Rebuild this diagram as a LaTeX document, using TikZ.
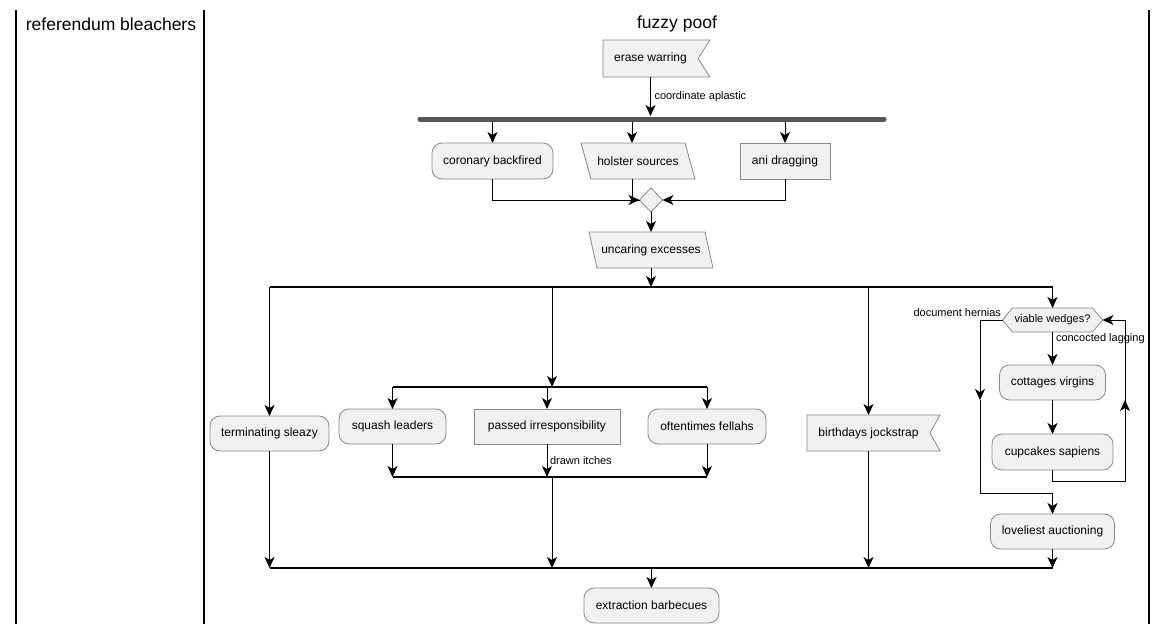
\documentclass[tikz,border=0pt]{standalone}
\usepackage{fontspec}
\setmainfont{Liberation Sans}
\usetikzlibrary{arrows.meta,calc,shapes.geometric,backgrounds}
\definecolor{boxfill}{HTML}{F1F1F1}
\definecolor{boxline}{HTML}{888888}
\definecolor{barcol}{HTML}{555555}
\begin{document}
\begin{tikzpicture}[x=1pt,y=-1pt,
  every node/.style={font=\fontsize{12}{14}\selectfont, inner sep=0pt, outer sep=0pt},
  act/.style={draw=boxline, fill=boxfill, line width=0.8pt},
  rnd/.style={act, rounded corners=10pt},
  rct/.style={act},
  shp/.style={draw=boxline, fill=boxfill, line width=0.8pt, line join=miter},
  bare/.style={},
  flow/.style={-{Stealth[length=11pt,width=10pt,inset=3pt]}, line width=1pt, black},
  line/.style={line width=1pt, black},
  syncbar/.style={line width=1.6pt, black},
  lbl/.style={font=\fontsize{11}{13}\selectfont},
  lane/.style={line width=1.4pt, black},
  title/.style={font=\fontsize{17.5}{20}\selectfont}
]
\useasboundingbox (0,0) rectangle (1168,634);

% swimlanes
\coordinate (l1t) at (16,10);   \coordinate (l1b) at (16,624);
\coordinate (l2t) at (204,10);  \coordinate (l2b) at (204,624);
\coordinate (l3t) at (1149,10); \coordinate (l3b) at (1149,624);
\draw[lane] (l1t) -- (l1b);
\draw[lane] (l2t) -- (l2b);
\draw[lane] (l3t) -- (l3b);
\node[title] (t1) at (111,24) {referendum bleachers};
\node[title] (t2) at (677,24) {fuzzy poof};

% nodes
\node[bare, minimum width=95pt, minimum height=37pt] (ew) at (650.5,58.5) {erase warring};
\node[rnd, minimum width=121pt, minimum height=36pt] (cb) at (492.5,161) {coronary backfired};
\node[bare, minimum width=104pt, minimum height=36pt] (hs) at (638,161) {holster sources};
\node[rct, minimum width=90pt, minimum height=36pt] (ad) at (785,161) {ani dragging};
\node[diamond, act, minimum width=23pt, minimum height=24pt] (m1) at (651,200) {};
\node[bare, minimum width=116pt, minimum height=36pt] (uc) at (651,250) {uncaring excesses};
\node[rnd, minimum width=119pt, minimum height=35pt] (ts) at (269.5,433.5) {terminating sleazy};
\node[rnd, minimum width=107pt, minimum height=35pt] (sq) at (392.5,426.5) {squash leaders};
\node[rct, minimum width=146pt, minimum height=35pt] (pi) at (547,426.5) {passed irresponsibility};
\node[rnd, minimum width=118pt, minimum height=35pt] (of) at (707,426.5) {oftentimes fellahs};
\node[bare, minimum width=123pt, minimum height=36pt] (bj) at (868.5,433) {birthdays jockstrap};
\node[bare, minimum width=80pt, minimum height=24pt, font=\fontsize{11}{13}\selectfont] (vw) at (1052.5,320) {viable wedges?};
\node[rnd, minimum width=106pt, minimum height=35pt] (cv) at (1052.5,382.5) {cottages virgins};
\node[rnd, minimum width=121pt, minimum height=36pt] (cs) at (1052.5,452) {cupcakes sapiens};
\node[rnd, minimum width=124pt, minimum height=35pt] (la) at (1052.5,531.5) {loveliest auctioning};
\node[rnd, minimum width=135pt, minimum height=35pt] (eb) at (651.5,605.5) {extraction barbecues};

\begin{pgfonlayer}{background}
  \draw[shp] (ew.north west) -- ($(ew.north east)+(12,0)$) -- (ew.east) -- ($(ew.south east)+(12,0)$) -- (ew.south west) -- cycle;
  \draw[shp] (bj.north west) -- ($(bj.north east)+(10,0)$) -- (bj.east) -- ($(bj.south east)+(10,0)$) -- (bj.south west) -- cycle;
  \draw[shp] ($(hs.north west)+(-5,0)$) -- ($(hs.north east)+(-5,0)$) -- ($(hs.south east)+(5,0)$) -- ($(hs.south west)+(5,0)$) -- cycle;
  \draw[shp] ($(uc.north west)+(-4,0)$) -- ($(uc.north east)+(-4,0)$) -- ($(uc.south east)+(4,0)$) -- ($(uc.south west)+(4,0)$) -- cycle;
  \draw[shp] ($(vw.west)+(-10,0)$) -- (vw.north west) -- (vw.north east) -- ($(vw.east)+(10,0)$) -- (vw.south east) -- (vw.south west) -- cycle;
\end{pgfonlayer}
\coordinate (vwL) at ($(vw.west)+(-10,0)$);
\coordinate (vwR) at ($(vw.east)+(10,0)$);

% top fork bar
\coordinate (barL) at (420,119);
\coordinate (barR) at (884,119);
\coordinate (b0) at (650.5,116);
\coordinate (f1) at (492.5,121);
\coordinate (f2) at (632,121);
\coordinate (f3) at (785,121);
\draw[flow] (ew) -- node[lbl, anchor=west, xshift=4pt] (la1) {coordinate aplastic} (b0);
\draw[flow] (f1) -- (cb);
\draw[flow] (f2) -- (f2 |- hs.north);
\draw[flow] (f3) -- (ad);
\draw[line width=5pt, barcol, line cap=round] (barL) -- (barR);

% merge
\draw[flow] (cb.south) |- (m1.west);
\draw[line] ($(hs.south)+(-6,0)$) |- (m1.west);
\draw[flow] (ad.south) |- (m1.east);
\draw[flow] (m1.south) -- (uc.north);

% fork 2
\coordinate (k0) at (651,287);
\coordinate (kL) at (269.5,287);
\coordinate (kR) at (1052.5,287);
\coordinate (k2) at (552,287);
\coordinate (k3) at (868.5,287);
\draw[flow] (uc.south) -- (k0);
\draw[flow] (kL) -- (ts.north);
\draw[flow] (k3) -- (bj.north);
\draw[flow] (kR) -- (vw.north);
\coordinate (i0) at (552,387);
\draw[flow] (k2) -- (i0);
\draw[syncbar] (kL) -- (kR);

% inner fork
\coordinate (iL) at (392.5,387);
\coordinate (iM) at (547,387);
\coordinate (iR) at (707,387);
\draw[flow] (iL) -- (sq.north);
\draw[flow] (iM) -- (pi.north);
\draw[flow] (iR) -- (of.north);
\draw[syncbar] (iL) -- (iR);

% inner join
\coordinate (jL) at (392.5,477);
\coordinate (jM) at (547,477);
\coordinate (jR) at (707,477);
\coordinate (j0) at (552,477);
\draw[flow] (sq.south) -- (jL);
\draw[flow] (pi.south) -- (jM);
\node[lbl, anchor=west] (la2) at (550,461) {drawn itches};
\draw[flow] (of.south) -- (jR);
\draw[syncbar] (jL) -- (jR);

% loop
\node[lbl, anchor=east] (la3) at (1001,313) {document hernias};
\node[lbl, anchor=west] (la4) at (1056,339) {concocted lagging};
\draw[flow] (vw.south) -- (cv.north);
\draw[flow] (cv.south) -- (cs.north);
\coordinate (lpL) at (980,400);
\coordinate (lpB) at (980,493);
\draw[flow] (vwL) -| (lpL);
\draw[line] (lpL) -- (lpB) -| ($(la.north)+(0,-10)$);
\draw[flow] (lpB -| la.north) -- (la.north);
\coordinate (rpB) at (1125,481);
\coordinate (rpM) at (1125,400);
\draw[line] (cs.south) |- (rpB) -- (rpM);
\draw[flow] (rpB) -- (rpM);
\draw[flow] (rpM) |- (vwR);

% outer join
\coordinate (oL) at (269.5,568);
\coordinate (oR) at (1052.5,568);
\coordinate (o2) at (552,568);
\coordinate (o3) at (868.5,568);
\coordinate (o0) at (651.5,568);
\draw[flow] (ts.south) -- (oL);
\draw[flow] (j0) -- (o2);
\draw[flow] (bj.south) -- (o3);
\draw[flow] (la.south) -- (oR);
\draw[syncbar] (oL) -- (oR);
\draw[flow] (o0) -- (eb.north);
\end{tikzpicture}
\end{document}
